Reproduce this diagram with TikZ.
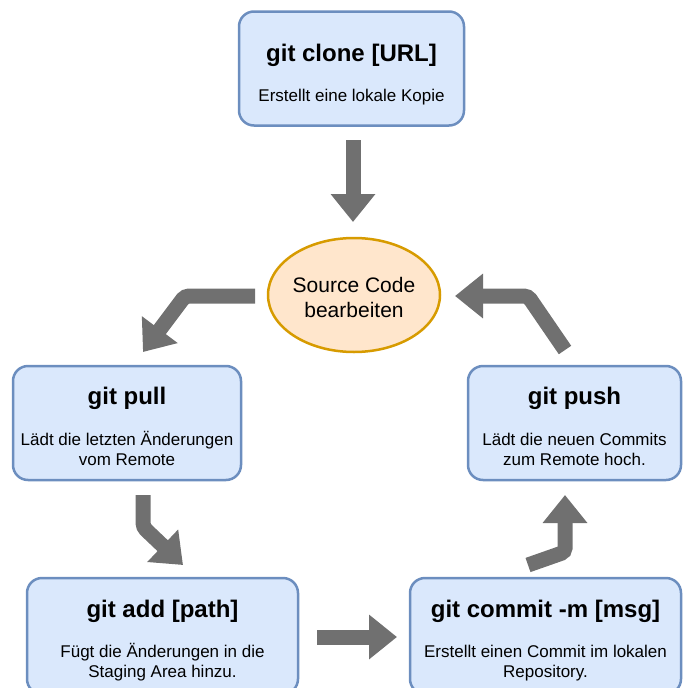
\documentclass[tikz,border=0pt]{standalone}
\usepackage{fontspec}
\setmainfont{Liberation Sans}
\usetikzlibrary{arrows.meta,shapes.geometric}
\definecolor{boxfill}{HTML}{DAE8FC}
\definecolor{boxdraw}{HTML}{6C8EBF}
\definecolor{ellfill}{HTML}{FFE6CC}
\definecolor{elldraw}{HTML}{D79B00}
\definecolor{arrgray}{HTML}{707070}
\begin{document}
\begin{tikzpicture}[x=1pt,y=-1pt,
  cmdbox/.style={draw=boxdraw,fill=boxfill,line width=2.5pt,rounded corners=15pt,
    minimum width=#1,minimum height=114pt,inner sep=0pt},
  cmdtitle/.style={font=\fontsize{24}{29}\selectfont\bfseries,anchor=base,inner sep=0pt},
  cmddesc/.style={font=\fontsize{17}{20}\selectfont,align=center,anchor=base,inner sep=0pt},
  bigarrow/.style={draw=arrgray,line width=15pt,rounded corners=4pt,
    -{Triangle[width=43pt,length=28pt]}}]
\useasboundingbox (0,0) rectangle (683,688);
% boxes
\node[cmdbox=225pt] (clone) at (351.5,68.5) {};
\node[cmdtitle] (clonet) at (351.5,61) {git clone [URL]};
\node[cmddesc] (cloned) at (351.5,101.5) {Erstellt eine lokale Kopie};

\node[draw=elldraw,fill=ellfill,line width=2.5pt,ellipse,minimum width=172pt,minimum height=114pt,inner sep=0pt] (src) at (354,295) {};
\node[font=\fontsize{21}{25}\selectfont,align=center,anchor=base,inner sep=0pt] (srct) at (354,317) {Source Code\\bearbeiten};

\node[cmdbox=228pt] (pull) at (127,423) {};
\node[cmdtitle] (pullt) at (127,404) {git pull};
\node[cmddesc] (pulld) at (127,465) {Lädt die letzten Änderungen\\vom Remote};

\node[cmdbox=213pt] (push) at (574.5,423) {};
\node[cmdtitle] (pusht) at (574.5,404) {git push};
\node[cmddesc] (pushd) at (574.5,465) {Lädt die neuen Commits\\zum Remote hoch.};

\node[cmdbox=271pt,minimum height=116pt] (add) at (162.5,636) {};
\node[cmdtitle] (addt) at (162.5,617) {git add [path]};
\node[cmddesc] (addd) at (162.5,677) {Fügt die Änderungen in die\\Staging Area hinzu.};

\node[cmdbox=271pt,minimum height=116pt] (commit) at (545.5,636) {};
\node[cmdtitle] (committ) at (545.5,617) {git commit -m [msg]};
\node[cmddesc] (commitd) at (545.5,677) {Erstellt einen Commit im lokalen\\Repository.};

% arrows
\coordinate (a1s) at (353,140);
\coordinate (a1e) at (353,222);
\draw[bigarrow] (a1s) -- (a1e);

\coordinate (a2s) at (255,296);
\coordinate (a2c) at (185,296);
\coordinate (a2e) at (143,352);
\draw[bigarrow] (a2s) -- (a2c) -- (a2e);

\coordinate (a3s) at (565,350);
\coordinate (a3c) at (528,296);
\coordinate (a3e) at (455,296);
\draw[bigarrow] (a3s) -- (a3c) -- (a3e);

\coordinate (a4s) at (143,495);
\coordinate (a4c) at (143,527);
\coordinate (a4e) at (183,565);
\draw[bigarrow] (a4s) -- (a4c) -- (a4e);

\coordinate (a5s) at (317,637);
\coordinate (a5e) at (397,637);
\draw[bigarrow] (a5s) -- (a5e);

\coordinate (a6s) at (528,565);
\coordinate (a6c) at (565,552);
\coordinate (a6e) at (565,495);
\draw[bigarrow] (a6s) -- (a6c) -- (a6e);
\end{tikzpicture}
\end{document}
